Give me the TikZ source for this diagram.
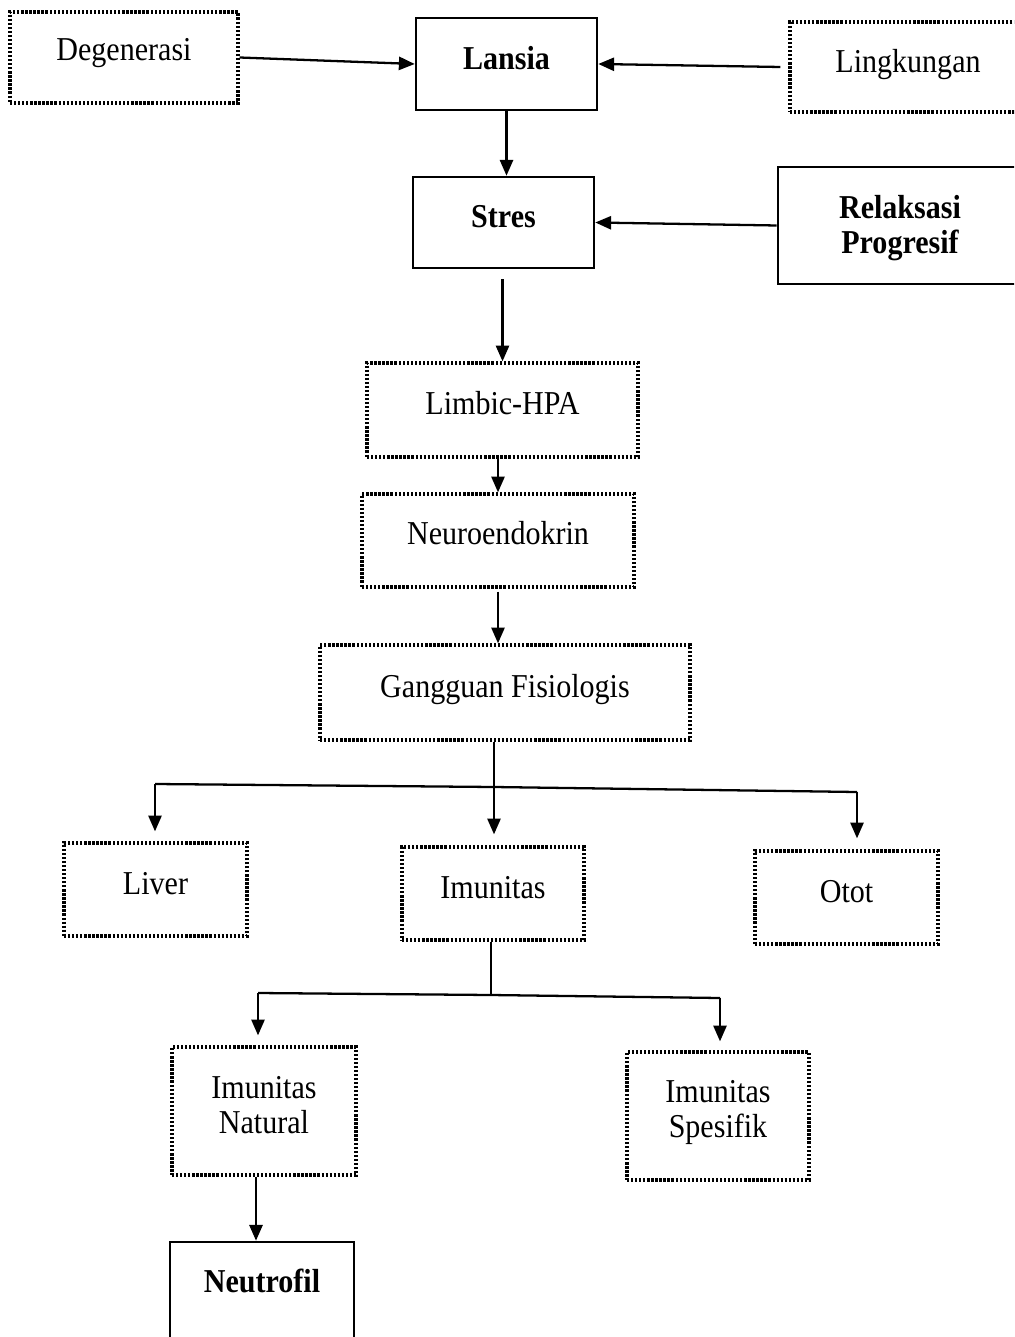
\documentclass[tikz,border=0pt]{standalone}
\usepackage{fontspec}
\setmainfont{Liberation Serif}[FakeStretch=0.9]
\usetikzlibrary{arrows.meta}
\begin{document}
\begin{tikzpicture}[x=0.02cm,y=-0.02cm,
  txt/.style={font=\fontsize{19}{20}\selectfont, align=center, inner sep=0pt},
  btxt/.style={txt, font=\fontsize{19}{20}\selectfont\bfseries},
  dotbox/.style={draw, line width=1.9pt, dash pattern=on 1.3pt off 1.0pt, inner sep=0pt},
  solidbox/.style={draw, line width=1.5pt, inner sep=0pt},
  ln/.style={line width=1.3pt},
  arr/.style={ln, -{Triangle[length=9pt,width=7.5pt]}}]
\useasboundingbox (0,0) rectangle (1014,1337);
\clip (0,0) rectangle (1014,1337);
% boxes
\node[dotbox, minimum width=4.56cm, minimum height=1.82cm,
  label={[txt, name=degT, yshift=0.09cm]center:Degenerasi}] (deg) at (124,57.5) {};
\node[solidbox, minimum width=3.62cm, minimum height=1.84cm,
  label={[btxt, name=lansiaT, yshift=0.12cm]center:Lansia}] (lansia) at (506.5,64) {};
\node[dotbox, minimum width=4.72cm, minimum height=1.80cm,
  label={[txt, name=lingT, yshift=0.05cm]center:Lingkungan}] (ling) at (908,67) {};
\node[solidbox, minimum width=3.62cm, minimum height=1.82cm,
  label={[btxt, name=stresT, yshift=0.12cm]center:Stres}] (stres) at (503.5,222.5) {};
\node[solidbox, minimum width=4.88cm, minimum height=2.34cm,
  label={[btxt, name=relaxT, yshift=-0.05cm]center:Relaksasi\\Progresif}] (relax) at (900,225.5) {};
\node[dotbox, minimum width=5.42cm, minimum height=1.88cm,
  label={[txt, name=limbicT, yshift=0.14cm]center:Limbic-HPA}] (limbic) at (502.5,410) {};
\node[dotbox, minimum width=5.44cm, minimum height=1.86cm,
  label={[txt, name=neuroT, yshift=0.14cm]center:Neuroendokrin}] (neuro) at (498,540.5) {};
\node[dotbox, minimum width=7.40cm, minimum height=1.90cm,
  label={[txt, name=gangT, yshift=0.05cm]center:Gangguan Fisiologis}] (gang) at (505,692.5) {};
\node[dotbox, minimum width=3.66cm, minimum height=1.86cm,
  label={[txt, name=liverT, yshift=0.12cm]center:Liver}] (liver) at (155.5,889.5) {};
\node[dotbox, minimum width=3.64cm, minimum height=1.86cm,
  label={[txt, name=imunT, yshift=0.12cm]center:Imunitas}] (imun) at (493,893.5) {};
\node[dotbox, minimum width=3.66cm, minimum height=1.86cm,
  label={[txt, name=ototT, yshift=0.12cm]center:Otot}] (otot) at (846.5,897.5) {};
\node[dotbox, minimum width=3.68cm, minimum height=2.56cm,
  label={[txt, name=naturalT, yshift=0.12cm]center:Imunitas\\Natural}] (natural) at (264,1111) {};
\node[dotbox, minimum width=3.64cm, minimum height=2.56cm,
  label={[txt, name=spesifikT, yshift=0.07cm]center:Imunitas\\Spesifik}] (spesifik) at (718,1116) {};
\node[solidbox, minimum width=3.68cm, minimum height=2.06cm] (neubox) at (262,1293.5) {};
\node[btxt] (neutext) at (262,1281) {Neutrofil};
% connectors top
\draw[arr] (deg.east) -- (lansia.west);
\draw[arr] ([xshift=-0.16cm]ling.west) -- (lansia.east);
\draw[arr] (lansia.south) -- (lansia.south |- stres.north);
\draw[arr] (relax.west) -- (stres.east);
\draw[arr] ([yshift=-0.2cm]stres.south -| limbic.north) -- (limbic.north);
\draw[arr] (limbic.south -| neuro.north) -- (neuro.north);
\draw[arr] ([yshift=-0.06cm]neuro.south) -- (neuro.south |- gang.north);
% split 1
\coordinate (jL) at (155,784);
\coordinate (jM) at (494,787);
\coordinate (jR) at (857,792);
\draw[ln] (gang.south -| jM) -- (jM);
\draw[ln] (jL) -- (jM) -- (jR);
\draw[arr, shorten >=0.2cm] (jL) -- (jL |- liver.north);
\draw[arr, shorten >=0.22cm] (jM) -- (jM |- imun.north);
\draw[arr, shorten >=0.22cm] (jR) -- (jR |- otot.north);
% split 2
\coordinate (kL) at (258,993);
\coordinate (kM) at (491,995);
\coordinate (kR) at (720,998);
\draw[ln] (imun.south -| kM) -- (kM);
\draw[ln] (kL) -- (kM) -- (kR);
\draw[arr, shorten >=0.2cm] (kL) -- (kL |- natural.north);
\draw[arr, shorten >=0.18cm] (kR) -- (kR |- spesifik.north);
\draw[arr] (natural.south -| 256,0) -- (neubox.north -| 256,0);
\end{tikzpicture}
\end{document}
